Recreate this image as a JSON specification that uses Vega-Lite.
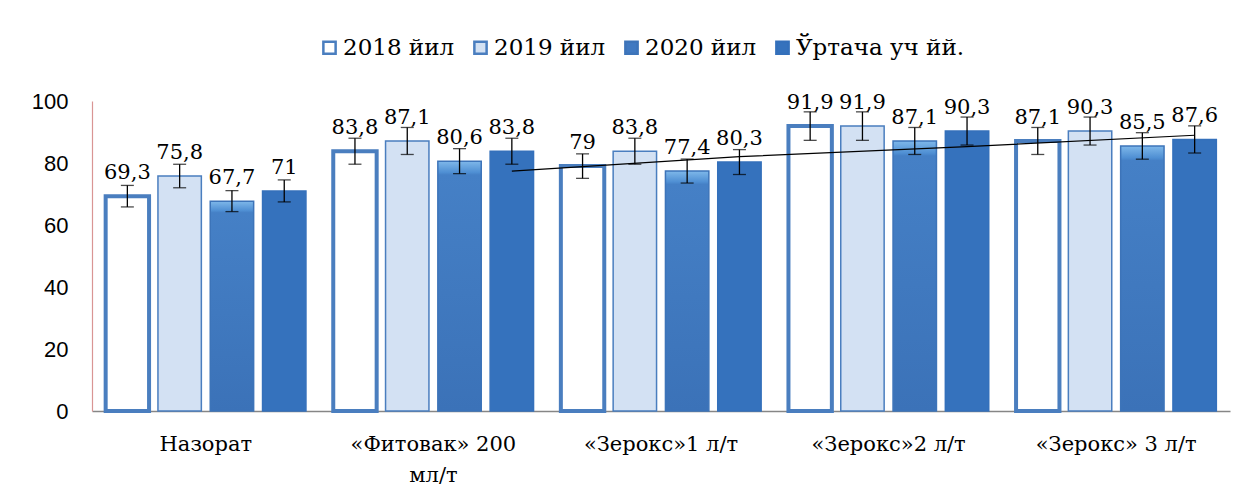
{
  "$schema": "https://vega.github.io/schema/vega-lite/v6.json",
  "width": 1138,
  "height": 310,
  "autosize": {"type": "none"},
  "padding": {"left": 92, "top": 101, "right": 15, "bottom": 86},
  "background": "white",
  "config": {"view": {"stroke": null}, "axis": {"grid": false}},
  "data": {"values": [
    {"group": "Назорат", "series": "2018 йил", "value": 69.3, "label": "69,3", "lo": 65.83, "hi": 72.77},
    {"group": "Назорат", "series": "2019 йил", "value": 75.8, "label": "75,8", "lo": 72.01, "hi": 79.59},
    {"group": "Назорат", "series": "2020 йил", "value": 67.7, "label": "67,7", "lo": 64.32, "hi": 71.09},
    {"group": "Назорат", "series": "Ўртача уч йй.", "value": 71, "label": "71", "lo": 67.45, "hi": 74.55},
    {"group": "«Фитовак» 200 мл/т", "series": "2018 йил", "value": 83.8, "label": "83,8", "lo": 79.61, "hi": 87.99},
    {"group": "«Фитовак» 200 мл/т", "series": "2019 йил", "value": 87.1, "label": "87,1", "lo": 82.75, "hi": 91.46},
    {"group": "«Фитовак» 200 мл/т", "series": "2020 йил", "value": 80.6, "label": "80,6", "lo": 76.57, "hi": 84.63},
    {"group": "«Фитовак» 200 мл/т", "series": "Ўртача уч йй.", "value": 83.8, "label": "83,8", "lo": 79.61, "hi": 87.99},
    {"group": "«Зерокс»1 л/т", "series": "2018 йил", "value": 79, "label": "79", "lo": 75.05, "hi": 82.95},
    {"group": "«Зерокс»1 л/т", "series": "2019 йил", "value": 83.8, "label": "83,8", "lo": 79.61, "hi": 87.99},
    {"group": "«Зерокс»1 л/т", "series": "2020 йил", "value": 77.4, "label": "77,4", "lo": 73.53, "hi": 81.27},
    {"group": "«Зерокс»1 л/т", "series": "Ўртача уч йй.", "value": 80.3, "label": "80,3", "lo": 76.29, "hi": 84.32},
    {"group": "«Зерокс»2 л/т", "series": "2018 йил", "value": 91.9, "label": "91,9", "lo": 87.31, "hi": 96.5},
    {"group": "«Зерокс»2 л/т", "series": "2019 йил", "value": 91.9, "label": "91,9", "lo": 87.31, "hi": 96.5},
    {"group": "«Зерокс»2 л/т", "series": "2020 йил", "value": 87.1, "label": "87,1", "lo": 82.75, "hi": 91.46},
    {"group": "«Зерокс»2 л/т", "series": "Ўртача уч йй.", "value": 90.3, "label": "90,3", "lo": 85.79, "hi": 94.82},
    {"group": "«Зерокс» 3 л/т", "series": "2018 йил", "value": 87.1, "label": "87,1", "lo": 82.75, "hi": 91.46},
    {"group": "«Зерокс» 3 л/т", "series": "2019 йил", "value": 90.3, "label": "90,3", "lo": 85.79, "hi": 94.82},
    {"group": "«Зерокс» 3 л/т", "series": "2020 йил", "value": 85.5, "label": "85,5", "lo": 81.23, "hi": 89.78},
    {"group": "«Зерокс» 3 л/т", "series": "Ўртача уч йй.", "value": 87.6, "label": "87,6", "lo": 83.22, "hi": 91.98}
  ]},
  "encoding": {
    "x": {
      "field": "group", "type": "nominal",
      "sort": ["Назорат", "«Фитовак» 200 мл/т", "«Зерокс»1 л/т", "«Зерокс»2 л/т", "«Зерокс» 3 л/т"],
      "scale": {"paddingInner": 0.12, "paddingOuter": 0.06},
      "axis": {
        "title": null, "ticks": false, "domainColor": "#868686", "domainWidth": 1.5,
        "labelAngle": 0, "labelFont": "DejaVu Serif", "labelFontSize": 21, "labelFontWeight": "normal", "labelColor": "#000000",
        "labelPadding": 22, "labelLineHeight": 31, "labelLimit": 300,
        "labelExpr": "datum.label == '«Фитовак» 200 мл/т' ? ['«Фитовак»  200', 'мл/т'] : datum.label"
      }
    },
    "xOffset": {
      "field": "series", "type": "nominal",
      "sort": ["2018 йил", "2019 йил", "2020 йил", "Ўртача уч йй."],
      "scale": {"paddingInner": 0.17, "paddingOuter": 0}
    }
  },
  "layer": [
    {
      "mark": {"type": "bar"},
      "encoding": {
        "y": {
          "field": "value", "type": "quantitative",
          "scale": {"domain": [0, 100]},
          "axis": {
            "title": null, "values": [0, 20, 40, 60, 80, 100], "ticks": false,
            "domainColor": "#d99594", "domainWidth": 1.2,
            "labelFont": "Liberation Sans", "labelFontSize": 22, "labelColor": "#000000", "labelPadding": 24
          }
        },
        "fill": {
          "condition": {
            "test": "datum.series == '2020 йил'",
            "value": {"gradient": "linear", "x1": 0, "y1": 0, "x2": 0, "y2": 1, "stops": [
              {"offset": 0, "color": "#7fb8ea"},
              {"offset": 0.045, "color": "#4f8fd3"},
              {"offset": 0.055, "color": "#4580c6"},
              {"offset": 1, "color": "#3b72b8"}
            ]}
          },
          "field": "series", "type": "nominal",
          "scale": {"domain": ["2018 йил", "2019 йил", "2020 йил", "Ўртача уч йй."], "range": ["#ffffff", "#d3e1f3", "#4079c1", "#3572bd"]},
          "legend": {
            "title": null, "orient": "none", "legendX": 226, "legendY": -65, "direction": "horizontal",
            "symbolType": "square", "symbolSize": 150, "symbolStrokeWidth": 2.5,
            "labelFont": "DejaVu Serif", "labelFontSize": 23, "labelFontWeight": "normal", "labelColor": "#000000",
            "columnPadding": 14, "labelOffset": 2, "labelLimit": 300
          }
        },
        "stroke": {
          "field": "series", "type": "nominal",
          "scale": {"domain": ["2018 йил", "2019 йил", "2020 йил", "Ўртача уч йй."], "range": ["#4a7ebf", "#4a7ebf", "#3d74b9", "#3470bb"]},
          "legend": {
            "title": null, "orient": "none", "legendX": 226, "legendY": -65, "direction": "horizontal",
            "symbolType": "square", "symbolSize": 150, "symbolStrokeWidth": 2.5,
            "labelFont": "DejaVu Serif", "labelFontSize": 23, "labelFontWeight": "normal", "labelColor": "#000000",
            "columnPadding": 14, "labelOffset": 2, "labelLimit": 300
          }
        },
        "strokeWidth": {"condition": {"test": "datum.series == '2018 йил'", "value": 4}, "value": 1.5}
      }
    },
    {
      "mark": {"type": "line", "color": "#000000", "strokeWidth": 1.2},
      "data": {"values": [
        {"group": "«Фитовак» 200 мл/т", "series": "Ўртача уч йй.", "ma": 77.4},
        {"group": "«Зерокс»1 л/т", "series": "Ўртача уч йй.", "ma": 82.05},
        {"group": "«Зерокс»2 л/т", "series": "Ўртача уч йй.", "ma": 85.3},
        {"group": "«Зерокс» 3 л/т", "series": "Ўртача уч йй.", "ma": 88.95}
      ]},
      "encoding": {
        "y": {"field": "ma", "type": "quantitative"}
      }
    },
    {
      "mark": {"type": "rule", "color": "#000000", "strokeWidth": 1.3},
      "encoding": {
        "y": {"field": "lo", "type": "quantitative"},
        "y2": {"field": "hi"}
      }
    },
    {
      "mark": {"type": "tick", "color": "#000000", "thickness": 1.3, "size": 13, "orient": "horizontal"},
      "encoding": {"y": {"field": "lo", "type": "quantitative"}}
    },
    {
      "mark": {"type": "tick", "color": "#000000", "thickness": 1.3, "size": 13, "orient": "horizontal"},
      "encoding": {"y": {"field": "hi", "type": "quantitative"}}
    },
    {
      "mark": {"type": "text", "font": "DejaVu Serif", "fontSize": 21, "color": "#000000", "baseline": "alphabetic", "dy": -17},
      "encoding": {
        "y": {"field": "value", "type": "quantitative"},
        "text": {"field": "label"}
      }
    }
  ]
}
